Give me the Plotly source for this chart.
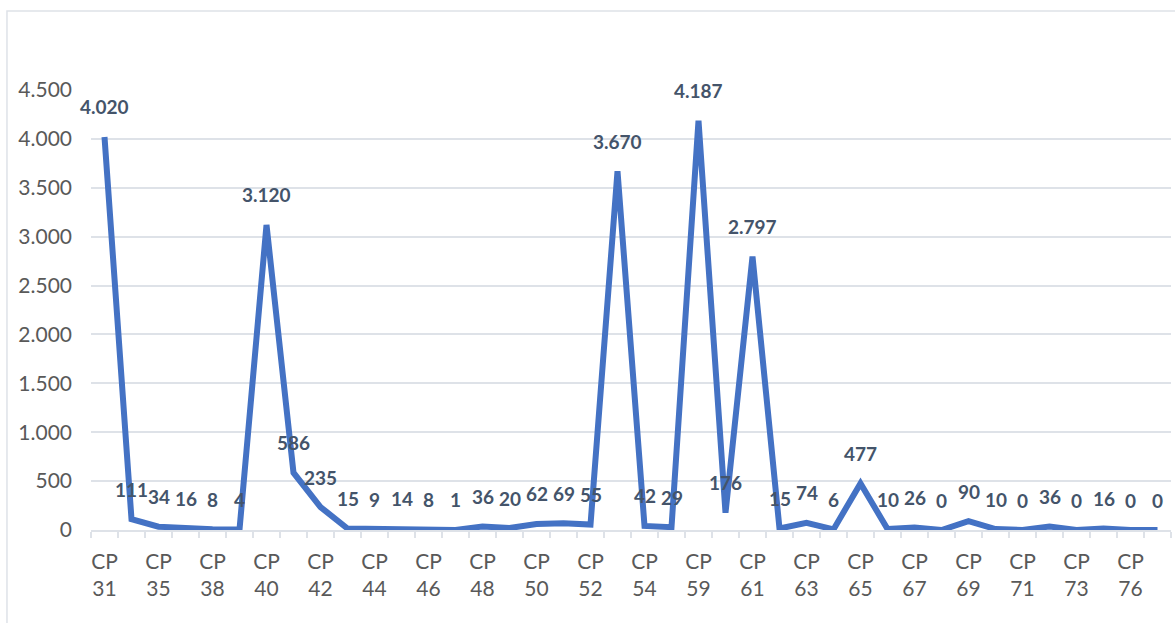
import plotly.graph_objects as go

# Checkpoints along the route and the count recorded at each
checkpoints = [
    "CP 31", "CP 33", "CP 35", "CP 37", "CP 38", "CP 39", "CP 40", "CP 41",
    "CP 42", "CP 43", "CP 44", "CP 45", "CP 46", "CP 47", "CP 48", "CP 49",
    "CP 50", "CP 51", "CP 52", "CP 53", "CP 54", "CP 57", "CP 59", "CP 60",
    "CP 61", "CP 62", "CP 63", "CP 64", "CP 65", "CP 66", "CP 67", "CP 68",
    "CP 69", "CP 70", "CP 71", "CP 72", "CP 73", "CP 75", "CP 76", "CP 77",
]
counts = [
    4020, 111, 34, 16, 8, 4, 3120, 586,
    235, 15, 9, 14, 8, 1, 36, 20,
    62, 69, 55, 3670, 42, 29, 4187, 176,
    2797, 15, 74, 6, 477, 10, 26, 0,
    90, 10, 0, 36, 0, 16, 0, 0,
]
y_ticks = [0, 500, 1000, 1500, 2000, 2500, 3000, 3500, 4000, 4500]

LINE = "#4472C4"
GRID = "#DEE2E8"
TICK_TEXT = "#595959"
LABEL_TEXT = "#44546A"
FONT = "Lato"


def fmt(v):
    return f"{v:,}".replace(",", ".")


# only every second category carries a visible label, split over two lines
x_ticktext = [c.replace(" ", "<br>") if i % 2 == 0 else "" for i, c in enumerate(checkpoints)]

fig = go.Figure()
fig.add_trace(go.Scatter(
    x=checkpoints,
    y=counts,
    mode="lines",
    line=dict(color=LINE, width=6),
    hoverinfo="x+y",
))

for c, v in zip(checkpoints, counts):
    fig.add_annotation(
        x=c, y=v, text=f"<b>{fmt(v)}</b>",
        showarrow=False, yshift=30,
        font=dict(family=FONT, size=19, color=LABEL_TEXT),
    )

# light frame around the whole chart area
fig.add_shape(
    type="rect", xref="paper", yref="paper",
    x0=-0.0778, x1=1.02, y0=-0.3, y1=1.1795,
    line=dict(color=GRID, width=1.5), fillcolor="rgba(0,0,0,0)",
    layer="below",
)

fig.update_layout(
    width=1175, height=623,
    margin=dict(l=91, r=4, t=90, b=93),
    paper_bgcolor="white",
    plot_bgcolor="white",
    showlegend=False,
    font=dict(family=FONT, color=TICK_TEXT),
    xaxis=dict(
        type="category",
        tickmode="array",
        tickvals=checkpoints,
        ticktext=x_ticktext,
        tickson="boundaries",
        tickangle=0,
        ticks="outside",
        ticklen=6,
        tickwidth=1.5,
        tickcolor=GRID,
        showline=True,
        linecolor=GRID,
        linewidth=1.5,
        showgrid=False,
        tickfont=dict(family=FONT, size=21, color=TICK_TEXT),
        ticklabelstandoff=12,
        range=[-0.5, len(checkpoints) - 0.5],
    ),
    yaxis=dict(
        range=[0, 4500],
        tickmode="array",
        tickvals=y_ticks,
        ticktext=[fmt(t) for t in y_ticks],
        showgrid=True,
        gridcolor=GRID,
        gridwidth=1.5,
        zeroline=False,
        showline=False,
        ticks="",
        tickfont=dict(family=FONT, size=21, color=TICK_TEXT),
        ticklabelstandoff=18,
    ),
)

fig.write_html("out.html")
